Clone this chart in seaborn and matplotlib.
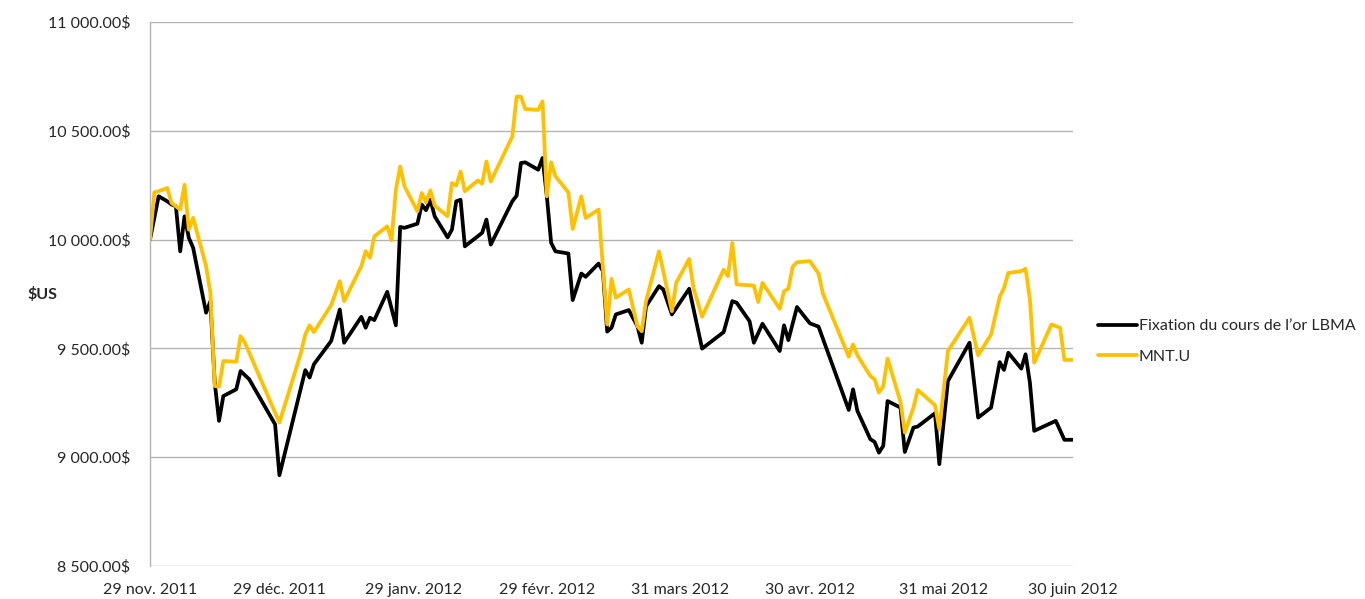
import pandas as pd
import matplotlib
matplotlib.use("Agg")
import matplotlib.pyplot as plt
import matplotlib.ticker as mticker
import seaborn as sns

# values, days counted from 29 Nov 2011
START = "2011-11-29"
gold_days = [0, 2, 4, 5, 6, 7, 8, 9, 10, 13, 14, 15, 16, 17, 20, 21, 23, 29, 30,
             36, 37, 38, 42, 44, 45, 49, 50, 51, 52, 55, 57, 58, 59, 62, 63, 64, 65,
             66, 69, 70, 71, 72, 73, 77, 78, 79, 84, 85, 86, 87, 90, 91, 92, 93, 94,
             97, 98, 100, 101, 104, 105, 106, 107, 108, 111, 113, 114, 115, 118, 119,
             121, 125, 128, 133, 135, 136, 139, 140, 142, 146, 147, 148, 150, 153,
             155, 162, 163, 164, 167, 168, 169, 170, 171, 174, 175, 177, 178, 182,
             183, 185, 190, 192, 195, 197, 198, 199, 202, 203, 204, 205, 210, 212, 214]
gold_vals = [10000, 10199, 10176, 10161, 10153, 9946, 10107, 10008, 9962, 9664, 9717,
             9343, 9167, 9281, 9312, 9396, 9358, 9151, 8917,
             9400, 9366, 9427, 9534, 9679, 9526, 9645, 9595, 9641, 9630, 9760, 9606,
             10058, 10054, 10073, 10161, 10135, 10183,
             10107, 10010, 10046, 10176, 10183, 9969, 10031, 10092, 9977, 10176, 10202,
             10352, 10355, 10321, 10375, 10200, 9985, 9946,
             9936, 9722, 9844, 9829, 9890, 9855, 9577, 9595, 9656, 9676, 9602, 9526,
             9693, 9786, 9771,
             9656, 9774, 9499, 9575, 9717, 9710, 9625, 9526, 9613, 9488, 9606, 9538,
             9690, 9615,
             9600, 9217, 9312, 9213, 9083, 9070, 9021, 9052, 9258, 9228, 9024, 9136,
             9141, 9202,
             8968, 9350, 9526, 9182, 9228, 9437, 9401, 9480, 9407, 9473, 9343, 9121,
             9167, 9080, 9080]

mnt_days = [0, 1, 2, 4, 5, 7, 8, 9, 10, 13, 14, 15, 16, 17, 20, 21, 22, 30,
            35, 36, 37, 38, 42, 44, 45, 49, 50, 51, 52, 55, 56, 57, 58, 59, 62, 63,
            64, 65, 66, 69, 70, 71, 72, 73, 76, 77, 78, 79, 84, 85, 86, 87, 90, 91,
            92, 93, 94, 97, 98, 100, 101, 104, 106, 107, 108, 111, 113, 114, 115,
            118, 121, 122, 125, 126, 128, 133, 134, 135, 136, 140, 141, 142, 146,
            147, 148, 149, 150, 153, 155, 156, 162, 163, 164, 167, 168, 169, 170,
            171, 174, 175, 177, 178, 182, 183, 185, 190, 192, 195, 197, 198, 199,
            202, 203, 204, 205, 209, 211, 212, 214]
mnt_vals = [10000, 10217, 10222, 10237, 10168, 10138, 10252, 10046, 10100, 9878, 9756,
            9327, 9324, 9442, 9439, 9556, 9526, 9159,
            9480, 9564, 9606, 9575, 9699, 9809, 9717, 9878, 9947, 9916, 10015, 10061,
            9997, 10229, 10336, 10245, 10130, 10214,
            10171, 10226, 10156, 10107, 10260, 10248, 10313, 10222, 10272, 10257,
            10359, 10267, 10474, 10657, 10657, 10600, 10596, 10635,
            10199, 10355, 10291, 10217, 10049, 10199, 10099, 10138, 9610, 9820, 9733,
            9771, 9602, 9579, 9717,
            9946, 9671, 9801, 9911, 9778, 9645, 9862, 9832, 9985, 9794, 9789, 9713,
            9801, 9682,
            9763, 9774, 9875, 9896, 9901, 9844, 9752, 9462, 9518, 9468, 9373, 9358,
            9297, 9327,
            9453, 9254, 9113, 9228, 9309, 9239, 9129, 9488, 9641, 9468, 9564, 9737,
            9778, 9847,
            9855, 9866, 9725, 9434, 9610, 9595, 9447, 9447]

tick_dates = ["2011-11-29", "2011-12-29", "2012-01-29", "2012-02-29",
              "2012-03-31", "2012-04-30", "2012-05-31", "2012-06-30"]
tick_labels = ["29 nov. 2011", "29 déc. 2011", "29 janv. 2012", "29 févr. 2012",
               "31 mars 2012", "30 avr. 2012", "31 mai 2012", "30 juin 2012"]
series_names = ["Fixation du cours de l\u2019or LBMA", "MNT.U"]

t0 = pd.Timestamp(START)
df = pd.concat([
    pd.DataFrame({"date": t0 + pd.to_timedelta(gold_days, unit="D"), "val": gold_vals, "serie": series_names[0]}),
    pd.DataFrame({"date": t0 + pd.to_timedelta(mnt_days, unit="D"), "val": mnt_vals, "serie": series_names[1]}),
])

sns.set_style("white")
plt.rcParams["font.family"] = ["Lato", "DejaVu Sans"]
FS = 11.5

fig = plt.figure(figsize=(13.65, 5.99), dpi=100)
ax = fig.add_axes([0.1099, 0.0551, 0.6762, 0.9082])
sns.lineplot(data=df, x="date", y="val", hue="serie", palette=["#000000", "#FFC000"],
             linewidth=2.7, ax=ax, estimator=None, sort=False)

ax.set_ylim(8500, 11000)
ax.set_xlim(pd.Timestamp(tick_dates[0]), pd.Timestamp(tick_dates[-1]))
ax.yaxis.set_major_locator(mticker.MultipleLocator(500))
ax.yaxis.set_major_formatter(mticker.FuncFormatter(lambda v, p: f"{v:,.2f}".replace(",", " ") + "$"))
ax.set_xticks(pd.to_datetime(tick_dates))
ax.set_xticklabels(tick_labels)
ax.tick_params(length=0, labelsize=FS, colors="#262626")
ax.tick_params(axis="y", pad=14)
ax.tick_params(axis="x", pad=12)
ax.grid(axis="y", color="#B3B3B3", linewidth=1)
for s in ["top", "right", "bottom"]:
    ax.spines[s].set_visible(False)
ax.spines["left"].set_color("#B3B3B3")
ax.spines["left"].set_linewidth(1)
ax.set_xlabel("")
ax.set_ylabel("")
fig.text(0.02, 0.508, "$US", fontsize=FS, fontweight="bold", color="#262626", va="center")

handles, labels = ax.get_legend_handles_labels()
ax.legend(handles, labels, loc="center left", bbox_to_anchor=(0.794, 0.43),
          bbox_transform=fig.transFigure, frameon=False, fontsize=FS,
          handlelength=2.4, handletextpad=0.15, labelspacing=1.0)

fig.savefig("out.png", dpi=100)
